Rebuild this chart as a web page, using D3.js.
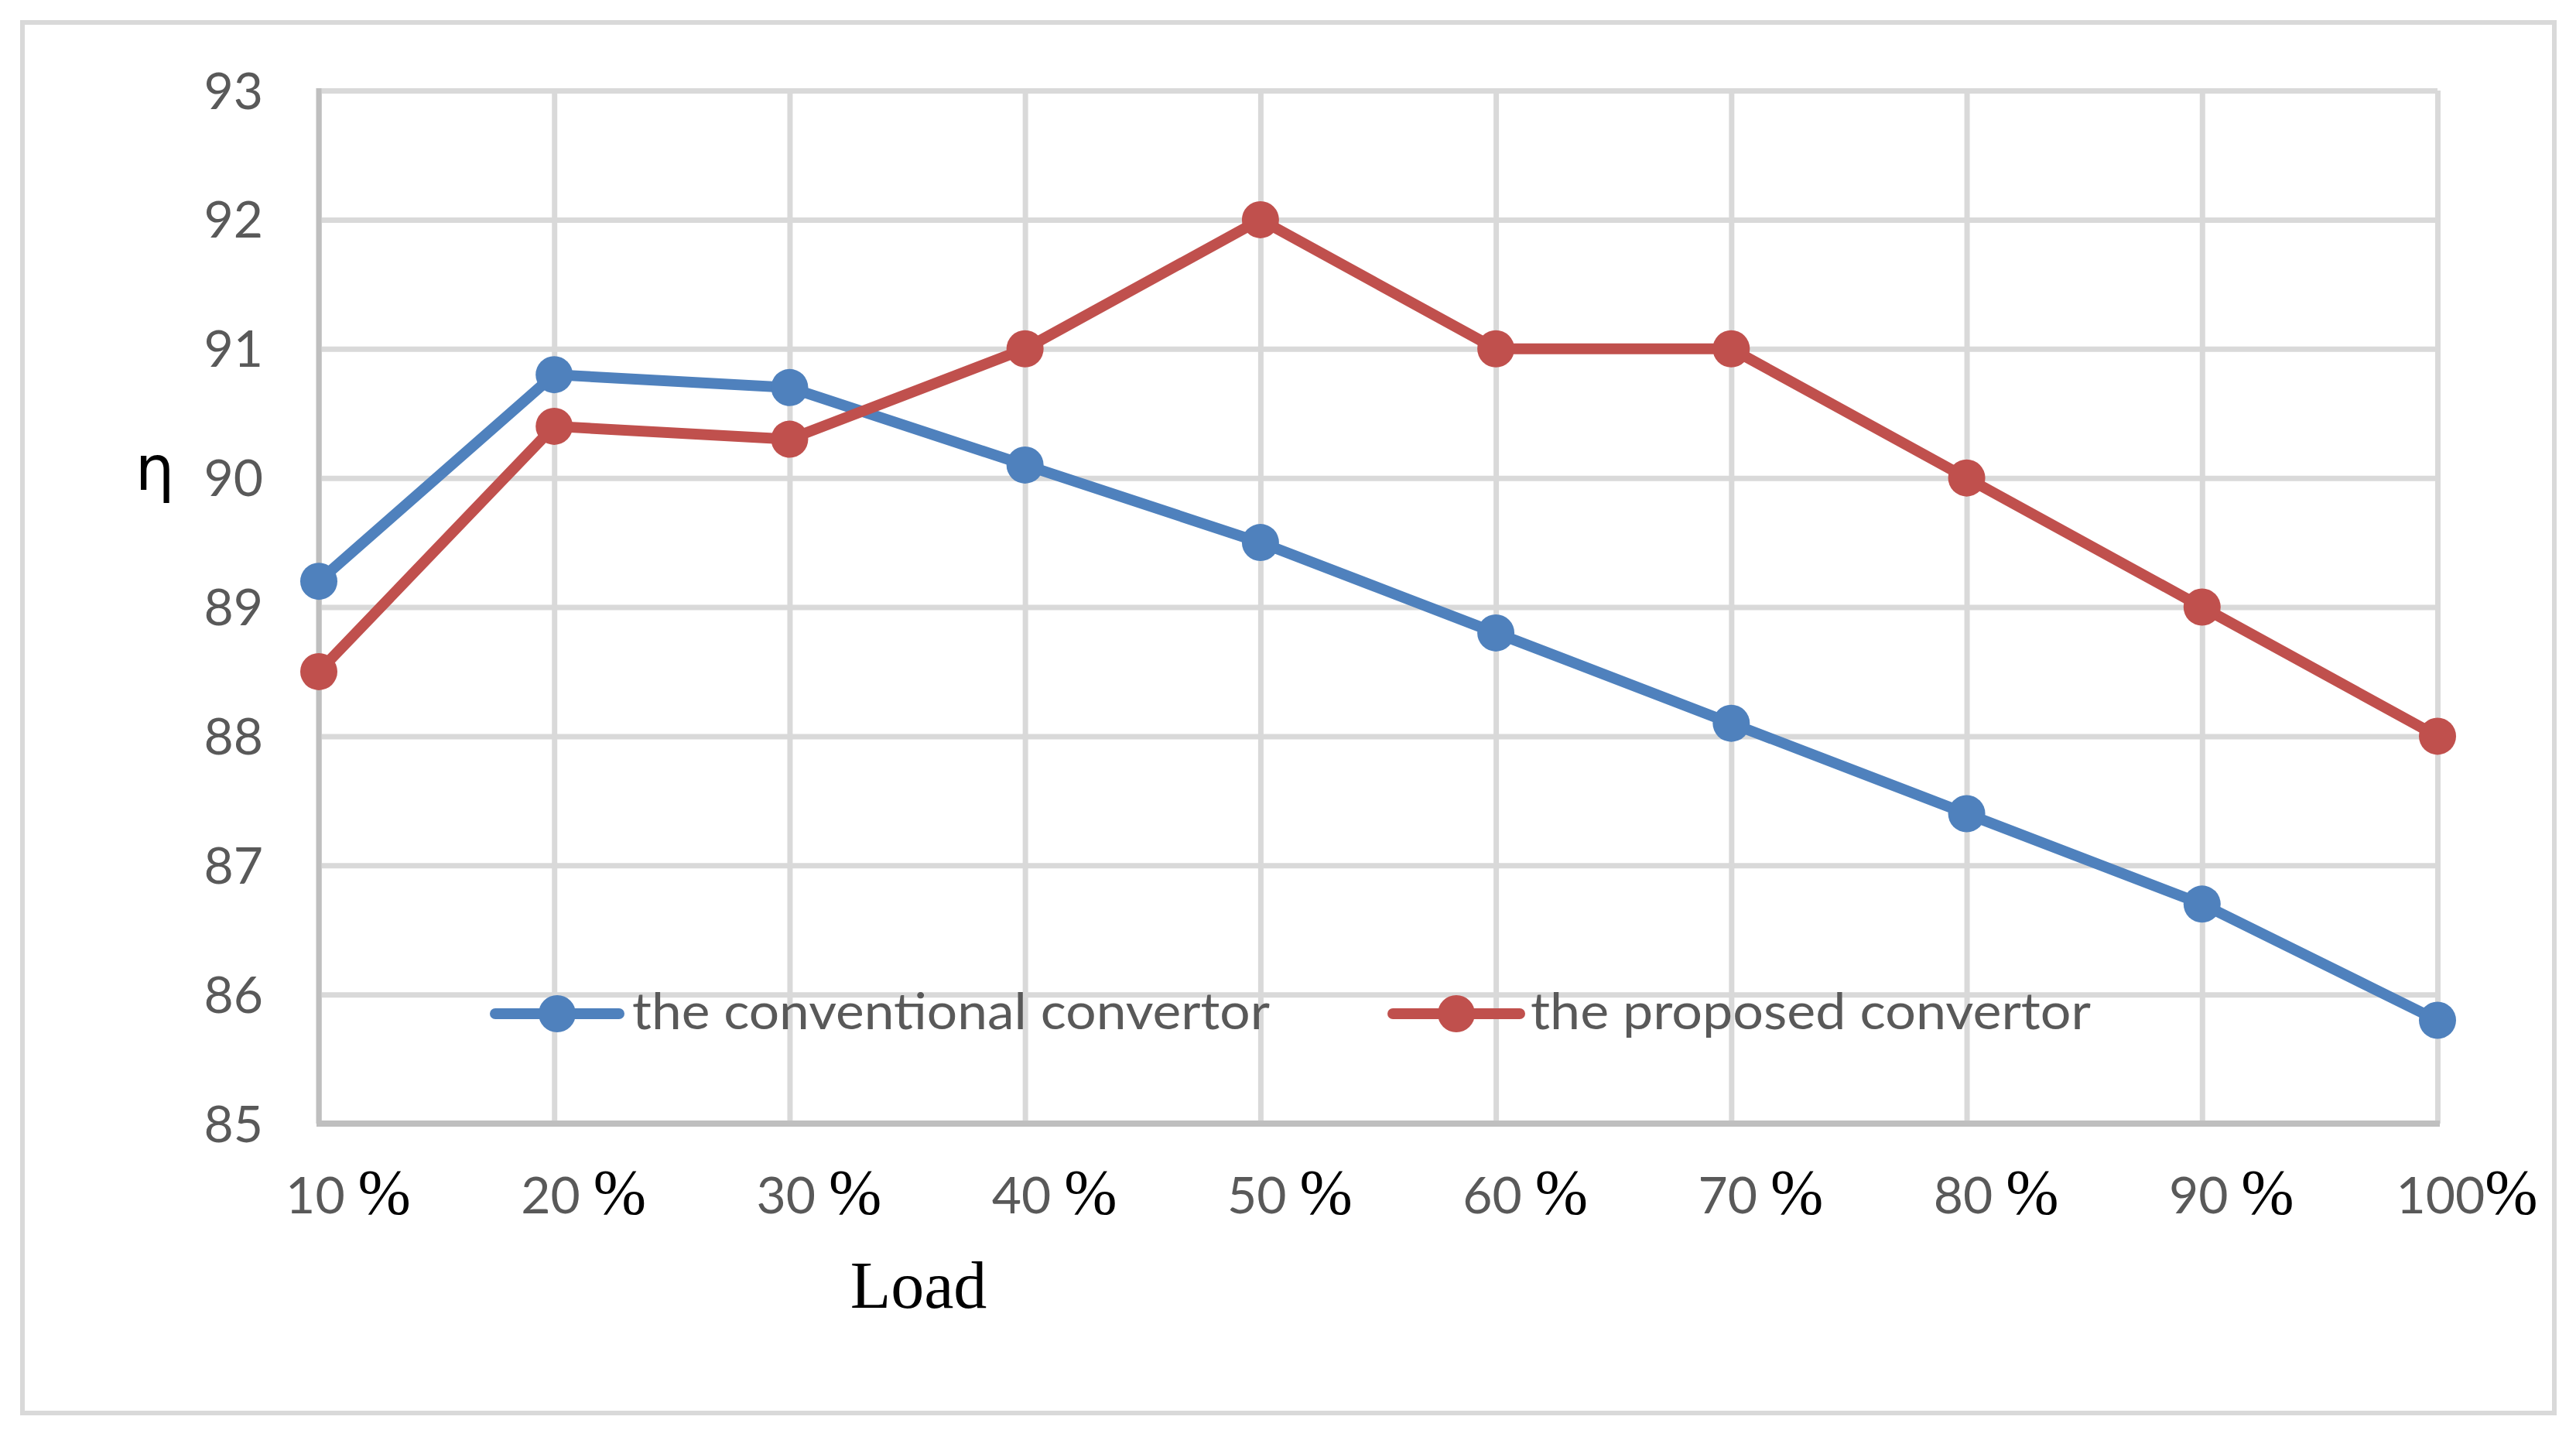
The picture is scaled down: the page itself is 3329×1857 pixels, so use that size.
<!DOCTYPE html>
<html>
<head>
  <script src="https://d3js.org/d3.v7.min.js"></script>
  <style>
    body { margin: 0; background: #fff; }
  </style>
</head>
<body>
  <svg id="chart"></svg>
  <script>
    var categories = ["10 %", "20 %", "30 %", "40 %", "50 %", "60 %", "70 %", "80 %", "90 %", "100%"];
    var conventional = [89.2, 90.8, 90.7, 90.1, 89.5, 88.8, 88.1, 87.4, 86.7, 85.8];
    var proposed = [88.5, 90.4, 90.3, 91, 92, 91, 91, 90, 89, 88];
    var yTicks = [85, 86, 87, 88, 89, 90, 91, 92, 93];
    var seriesNames = ["the conventional convertor", "the proposed convertor"];

    var width = 3329, height = 1857;
    var plotLeft = 412, plotRight = 3150, plotTop = 117, plotBottom = 1452;
    var blue = "#4f81bd", red = "#c0504d";

    var svg = d3.select("#chart")
                .attr("width", width)
                .attr("height", height);

    svg.append("rect")
       .attr("x", 0).attr("y", 0)
       .attr("width", width).attr("height", height)
       .attr("fill", "#fff");

    // outer chart border
    svg.append("rect")
       .attr("x", 29).attr("y", 29)
       .attr("width", 3272).attr("height", 1797)
       .attr("fill", "none")
       .attr("stroke", "#d9d9d9")
       .attr("stroke-width", 6);

    var xScale = d3.scalePoint()
                   .domain(categories)
                   .range([plotLeft, plotRight]);
    var yScale = d3.scaleLinear()
                   .domain([85, 93])
                   .range([plotBottom, plotTop]);

    // horizontal gridlines + y labels
    var yAxis = svg.append("g")
       .attr("transform", "translate(" + plotLeft + ",0)")
       .call(d3.axisLeft(yScale).tickValues(yTicks).tickSize(-(plotRight - plotLeft)).tickPadding(72));
    yAxis.select(".domain").remove();
    yAxis.selectAll(".tick line")
         .attr("stroke", "#d9d9d9")
         .attr("stroke-width", 7);
    yAxis.selectAll(".tick text")
         .attr("fill", "#595959")
         .attr("font-family", "Lato, 'Open Sans', sans-serif")
         .attr("font-size", 66)
         .attr("dy", "0.35em");

    // vertical gridlines
    var xAxis = svg.append("g")
       .attr("transform", "translate(0," + plotBottom + ")")
       .call(d3.axisBottom(xScale).tickSize(-(plotBottom - plotTop)).tickFormat(""));
    xAxis.select(".domain").remove();
    xAxis.selectAll(".tick line")
         .attr("stroke", "#d9d9d9")
         .attr("stroke-width", 7);

    // axis lines
    svg.append("line")
       .attr("x1", plotLeft).attr("x2", plotLeft)
       .attr("y1", plotTop - 3).attr("y2", plotBottom)
       .attr("stroke", "#bfbfbf").attr("stroke-width", 7);
    svg.append("line")
       .attr("x1", plotLeft - 3).attr("x2", plotRight + 3)
       .attr("y1", plotBottom).attr("y2", plotBottom)
       .attr("stroke", "#bfbfbf").attr("stroke-width", 8);

    // x tick labels: gray number, black percent sign
    var xLabels = svg.append("g");
    categories.forEach(function(c) {
      var num = c.replace("%", "");
      var t = xLabels.append("text")
        .attr("x", xScale(c) + 38)
        .attr("y", 1568)
        .attr("text-anchor", "middle");
      t.append("tspan")
       .attr("fill", "#595959")
       .attr("font-family", "Lato, 'Open Sans', sans-serif")
       .attr("font-size", 66)
       .text(num);
      t.append("tspan")
       .attr("fill", "#000")
       .attr("font-family", "'Liberation Serif', serif")
       .attr("font-size", 82)
       .text("%");
    });

    // axis titles
    svg.append("text")
       .attr("x", 1187).attr("y", 1690)
       .attr("text-anchor", "middle")
       .attr("font-family", "'Liberation Serif', 'Times New Roman', serif")
       .attr("font-size", 86)
       .attr("fill", "#000")
       .text("Load");
    svg.append("text")
       .attr("x", 200).attr("y", 633)
       .attr("text-anchor", "middle")
       .attr("font-family", "'DejaVu Sans', sans-serif")
       .attr("font-size", 80)
       .attr("fill", "#000")
       .text("η");

    var line = d3.line()
                 .x(function(d, i) { return xScale(categories[i]); })
                 .y(function(d) { return yScale(d); });

    function drawSeries(values, color) {
      svg.append("path")
         .datum(values)
         .attr("d", line)
         .attr("fill", "none")
         .attr("stroke", color)
         .attr("stroke-width", 14)
         .attr("stroke-linejoin", "round");
      svg.append("g").selectAll("circle")
         .data(values)
         .enter().append("circle")
         .attr("cx", function(d, i) { return xScale(categories[i]); })
         .attr("cy", function(d) { return yScale(d); })
         .attr("r", 24)
         .attr("fill", color);
    }
    drawSeries(conventional, blue);
    drawSeries(proposed, red);

    // legend
    var legendItems = [
      { name: seriesNames[0], color: blue, x1: 640, x2: 800, tx: 817, tw: 824 },
      { name: seriesNames[1], color: red, x1: 1800, x2: 1964, tx: 1978, tw: 724 }
    ];
    var legendY = 1310;
    legendItems.forEach(function(d) {
      svg.append("line")
         .attr("x1", d.x1).attr("x2", d.x2)
         .attr("y1", legendY).attr("y2", legendY)
         .attr("stroke", d.color)
         .attr("stroke-width", 14)
         .attr("stroke-linecap", "round");
      svg.append("circle")
         .attr("cx", (d.x1 + d.x2) / 2)
         .attr("cy", legendY)
         .attr("r", 24)
         .attr("fill", d.color);
      svg.append("text")
         .attr("x", d.tx).attr("y", legendY + 20)
         .attr("font-family", "Lato, 'Open Sans', sans-serif")
         .attr("font-size", 66)
         .attr("fill", "#595959")
         .attr("textLength", d.tw)
         .attr("lengthAdjust", "spacingAndGlyphs")
         .text(d.name);
    });
  </script>
</body>
</html>
